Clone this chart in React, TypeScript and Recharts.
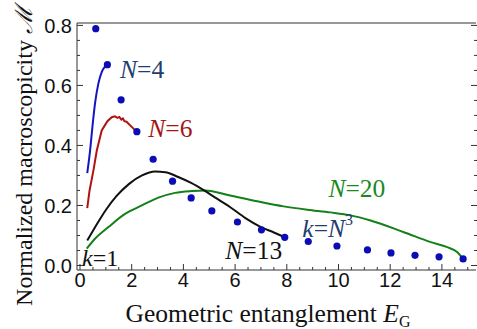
import React from 'react';
import { ComposedChart, Line, Scatter, XAxis, YAxis, ReferenceDot } from 'recharts';

// curves: geometric entanglement (e) vs normalized macroscopicity (m)
const curveN4 = [
  { e: 0.28, m: 0.308 }, { e: 0.39, m: 0.383 }, { e: 0.48, m: 0.461 }, { e: 0.58, m: 0.539 },
  { e: 0.71, m: 0.606 }, { e: 0.84, m: 0.644 }, { e: 1.0, m: 0.667 }, { e: 1.05, m: 0.672 },
];
const curveN6 = [
  { e: 0.28, m: 0.191 }, { e: 0.37, m: 0.25 }, { e: 0.52, m: 0.317 }, { e: 0.65, m: 0.383 },
  { e: 0.84, m: 0.45 }, { e: 1.06, m: 0.481 }, { e: 1.23, m: 0.494 }, { e: 1.35, m: 0.497 },
  { e: 1.45, m: 0.492 }, { e: 1.52, m: 0.495 }, { e: 1.6, m: 0.486 }, { e: 1.66, m: 0.49 },
  { e: 1.72, m: 0.481 }, { e: 1.8, m: 0.479 }, { e: 1.94, m: 0.467 }, { e: 2.07, m: 0.456 },
  { e: 2.2, m: 0.446 },
];
const curveN13 = [
  { e: 0.28, m: 0.083 }, { e: 0.6, m: 0.13 }, { e: 1.0, m: 0.185 }, { e: 1.4, m: 0.23 },
  { e: 1.9, m: 0.272 }, { e: 2.4, m: 0.3 }, { e: 2.9, m: 0.313 }, { e: 3.3, m: 0.311 },
  { e: 3.8, m: 0.295 }, { e: 4.3, m: 0.275 }, { e: 4.8, m: 0.25 }, { e: 5.2, m: 0.228 },
  { e: 5.8, m: 0.195 }, { e: 6.4, m: 0.158 }, { e: 7.0, m: 0.128 }, { e: 7.5, m: 0.11 },
  { e: 7.9, m: 0.095 },
];
const curveN20 = [
  { e: 0.26, m: 0.056 }, { e: 0.58, m: 0.089 }, { e: 1.1, m: 0.128 }, { e: 1.74, m: 0.172 },
  { e: 2.39, m: 0.2 }, { e: 3.03, m: 0.226 }, { e: 3.68, m: 0.242 }, { e: 4.33, m: 0.248 },
  { e: 4.84, m: 0.25 }, { e: 5.81, m: 0.233 }, { e: 6.85, m: 0.214 }, { e: 7.88, m: 0.197 },
  { e: 8.79, m: 0.186 }, { e: 9.69, m: 0.177 }, { e: 10.47, m: 0.167 }, { e: 11.24, m: 0.15 },
  { e: 12.53, m: 0.111 }, { e: 13.57, m: 0.078 }, { e: 14.21, m: 0.061 }, { e: 14.6, m: 0.044 },
  { e: 14.8, m: 0.024 },
];
// k = N^3 states
const dotsKN3 = [
  { e: 0.61, m: 0.789 }, { e: 1.06, m: 0.669 }, { e: 1.59, m: 0.552 }, { e: 2.2, m: 0.446 },
  { e: 2.83, m: 0.354 }, { e: 3.58, m: 0.281 }, { e: 4.3, m: 0.225 }, { e: 5.1, m: 0.182 },
  { e: 6.09, m: 0.145 }, { e: 7.02, m: 0.119 }, { e: 7.92, m: 0.094 }, { e: 8.83, m: 0.08 },
  { e: 9.94, m: 0.065 }, { e: 11.12, m: 0.052 }, { e: 12.03, m: 0.042 }, { e: 12.96, m: 0.034 },
  { e: 13.89, m: 0.029 }, { e: 14.82, m: 0.022 },
];

const xTicks = [0, 0.5, 1, 1.5, 2, 2.5, 3, 3.5, 4, 4.5, 5, 5.5, 6, 6.5, 7, 7.5, 8, 8.5, 9, 9.5, 10,
  10.5, 11, 11.5, 12, 12.5, 13, 13.5, 14, 14.5, 15];
const xLabels = [0, 2, 4, 6, 8, 10, 12, 14];
const yTicks = [0, 0.05, 0.1, 0.15, 0.2, 0.25, 0.3, 0.35, 0.4, 0.45, 0.5, 0.55, 0.6, 0.65, 0.7,
  0.75, 0.8];
const yLabels = [0, 0.2, 0.4, 0.6, 0.8];

const notes = [
  { e: 1.55, m: 0.655, color: '#1f3d6e', kind: 'N', text: '4' },
  { e: 2.64, m: 0.458, color: '#a31515', kind: 'N', text: '6' },
  { e: 9.61, m: 0.257, color: '#1a8a1f', kind: 'N', text: '20' },
  { e: 5.62, m: 0.053, color: '#111111', kind: 'N', text: '13' },
  { e: 8.6, m: 0.124, color: '#1f3d6e', kind: 'kN3', text: '' },
  { e: 0.08, m: 0.025, color: '#111111', kind: 'k1', text: '' },
];

const serif = 'Liberation Serif';
const sans = 'Liberation Sans';
const frame = '#333';
const xDomain = [-0.116, 15.319];
const yDomain = [-0.015, 0.808];

const BottomTick = (p: any) => {
  const major = xLabels.includes(p.payload.value);
  return (
    <g>
      <line x1={p.x} x2={p.x} y1={p.y} y2={p.y - (major ? 6 : 3)} stroke={frame} />
      {major && (
        <text x={p.x} y={p.y + 10} textAnchor="middle" dominantBaseline="central"
          fontFamily={sans} fontSize={20} fill="#111">{p.payload.value}</text>
      )}
    </g>
  );
};

const TopTick = (p: any) => {
  const major = xLabels.includes(p.payload.value);
  return <line x1={p.x} x2={p.x} y1={p.y} y2={p.y + (major ? 6 : 3)} stroke={frame} />;
};

const LeftTick = (p: any) => {
  const major = yLabels.includes(p.payload.value);
  return (
    <g>
      <line x1={p.x} x2={p.x + (major ? 6 : 3)} y1={p.y} y2={p.y} stroke={frame} />
      {major && (
        <text x={p.x - 5} y={p.y + 1} textAnchor="end" dominantBaseline="central"
          fontFamily={sans} fontSize={20} fill="#111">{p.payload.value.toFixed(1)}</text>
      )}
    </g>
  );
};

const RightTick = (p: any) => {
  const major = yLabels.includes(p.payload.value);
  return <line x1={p.x + 1} x2={p.x - (major ? 5 : 2)} y1={p.y} y2={p.y} stroke={frame} />;
};

const Note = (p: any, n: (typeof notes)[number]) => {
  let body: React.ReactNode;
  if (n.kind === 'N') {
    body = <><tspan fontStyle="italic">N</tspan><tspan>={n.text}</tspan></>;
  } else if (n.kind === 'kN3') {
    body = <><tspan fontStyle="italic">k</tspan><tspan>=</tspan><tspan fontStyle="italic">N</tspan><tspan dy={-9} fontSize={16}>3</tspan></>;
  } else {
    body = <><tspan fontStyle="italic">k</tspan><tspan>=1</tspan></>;
  }
  return (
    <text x={p.cx} y={p.cy} textAnchor="start" dominantBaseline="central"
      fontFamily={serif} fontSize={n.kind === 'k1' ? 24 : 25.5} fill={n.color}>{body}</text>
  );
};

const Dot = (p: any) => <circle cx={p.cx} cy={p.cy} r={3.6} fill="#0c0cb4" />;

export default function App() {
  return (
    <div style={{ position: 'absolute', left: 0, top: 0, width: 477, height: 329, background: '#fff' }}>
      <ComposedChart width={477} height={329} margin={{ top: 22, right: 0, bottom: 58, left: 76 }}>
        <XAxis dataKey="e" type="number" domain={xDomain} allowDataOverflow ticks={xTicks}
          interval={0} height={1} tickSize={0} tickMargin={0} tickLine={false}
          axisLine={{ stroke: frame }} tick={(p: any) => <BottomTick {...p} />} />
        <XAxis xAxisId="top" orientation="top" type="number" domain={xDomain} allowDataOverflow
          ticks={xTicks} interval={0} height={1} tickSize={0} tickMargin={0} tickLine={false}
          axisLine={{ stroke: frame }} tick={(p: any) => <TopTick {...p} />} />
        <YAxis dataKey="m" type="number" domain={yDomain} allowDataOverflow ticks={yTicks}
          interval={0} width={1} tickSize={0} tickMargin={0} tickLine={false}
          axisLine={{ stroke: frame }} tick={(p: any) => <LeftTick {...p} />} />
        <YAxis yAxisId="right" orientation="right" type="number" domain={yDomain} allowDataOverflow
          ticks={yTicks} interval={0} width={1} tickSize={0} tickMargin={0} tickLine={false}
          axisLine={false} tick={(p: any) => <RightTick {...p} />} />
        <Line data={curveN20} dataKey="m" type="monotone" stroke="#13801a" strokeWidth={2} dot={false} isAnimationActive={false} />
        <Line data={curveN13} dataKey="m" type="monotone" stroke="#111" strokeWidth={2} dot={false} isAnimationActive={false} />
        <Line data={curveN6} dataKey="m" type="linear" stroke="#b01212" strokeWidth={2} dot={false} isAnimationActive={false} />
        <Line data={curveN4} dataKey="m" type="monotone" stroke="#1414c4" strokeWidth={2} dot={false} isAnimationActive={false} />
        <Scatter data={dotsKN3} dataKey="m" shape={Dot} isAnimationActive={false} />
        {notes.map((n, i) => (
          <ReferenceDot key={i} x={n.e} y={n.m} r={1} ifOverflow="visible"
            shape={(p: any) => Note(p, n)} />
        ))}
      </ComposedChart>
      <svg width={477} height={329} style={{ position: 'absolute', left: 0, top: 0, pointerEvents: 'none' }}>
        <text x={268} y={322} textAnchor="middle" fontFamily={serif} fontSize={25.5} fill="#111">
          Geometric entanglement <tspan fontStyle="italic">E</tspan><tspan dy={5} fontSize={16}>G</tspan>
        </text>
        <text transform="translate(32,156) rotate(-90)" textAnchor="middle" fontFamily={serif} fontSize={24} fill="#111">
          Normalized macroscopicity <tspan fontStyle="italic">ℳ</tspan>
        </text>
      </svg>
    </div>
  );
}
